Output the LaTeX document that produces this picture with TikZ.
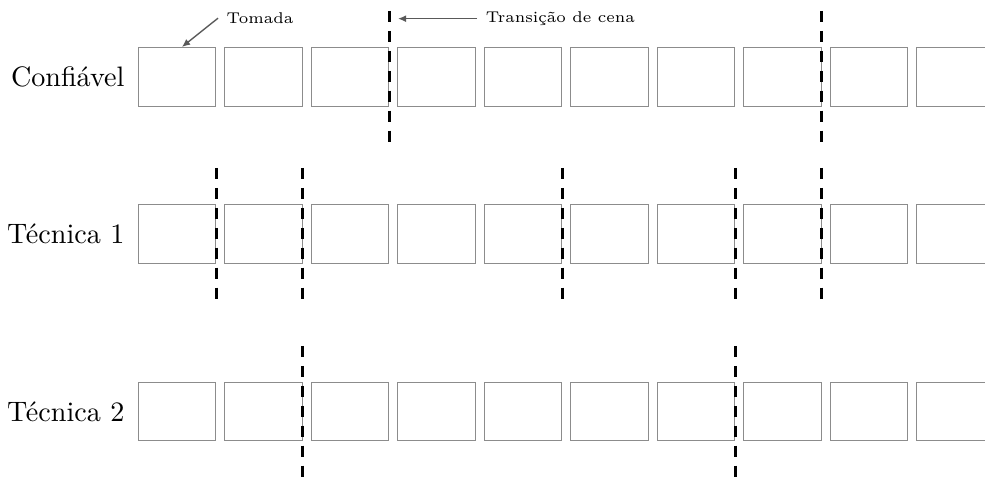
\documentclass[tikz,border=0pt]{standalone}
\usetikzlibrary{arrows.meta,calc}
\begin{document}
\begin{tikzpicture}[x=0.366pt,y=-0.366pt,
  frame/.style={draw=black!45,line width=0.5pt,minimum width=28.4pt,minimum height=21.6pt,inner sep=0pt,anchor=north west},
  cut/.style={draw=black,line width=1.1pt,dash pattern=on 4pt off 3.3pt},
  lbl/.style={anchor=east,font=\fontsize{10.3}{12}\selectfont,inner sep=4.6pt},
  note/.style={font=\fontsize{5.7}{7}\selectfont,inner sep=3pt},
  pointer/.style={draw=black!65,line width=0.5pt,-{Latex[length=3pt,width=2.6pt]}}]
\useasboundingbox (0,0) rectangle (985,479);
\foreach \i in {0,...,9} {
  \node[frame] (a\i) at (137.5+86.5*\i,47) {};
  \node[frame] (b\i) at (137.5+86.5*\i,204) {};
  \node[frame,minimum height=21.2pt] (c\i) at (137.5+86.5*\i,382) {};
}
\foreach \n in {a2,a7,b0,b1,b4,b6,b7,c1,c6}
  \draw[cut] ([yshift=13.2pt]\n.north east) -- ([yshift=-13.2pt]\n.south east);
\node[lbl] (la) at (a0.west) {Confiável};
\node[lbl] (lb) at (b0.west) {Técnica 1};
\node[lbl] (lc) at (c0.west) {Técnica 2};
\node[note,anchor=base west] (tom) at (218,23.5) {Tomada};
\draw[pointer] (tom.west) -- ([xshift=1.8pt]a0.north);
\node[note,anchor=base west] (tr) at (477,22.5) {Transição de cena};
\coordinate (tip) at (398,15);
\draw[pointer] (tr.west) -- (tip |- tr.west);
\end{tikzpicture}
\end{document}
